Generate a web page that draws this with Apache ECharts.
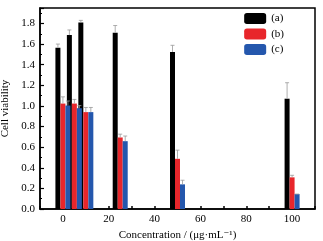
<html style="height: 100%">
<head>
<meta charset="utf-8">
</head>
<body style="height: 100%; margin: 0">
	<div id="container" style="height: 100%"></div>

	<script src="https://cdn.jsdelivr.net/npm/echarts@6/dist/echarts.min.js"></script>
	<script type="text/javascript">
		var dom = document.getElementById("container");
		var myChart = echarts.init(dom);

		// concentrations (μg/mL)
		var concentrations = [0, 5, 10, 25, 50, 100];
		var seriesNames = ['(a)', '(b)', '(c)'];
		// mean cell viability
		var valuesA = [1.565, 1.687, 1.81, 1.71, 1.523, 1.07];
		var valuesB = [1.023, 1.023, 0.94, 0.694, 0.487, 0.307];
		var valuesC = [1.004, 0.978, 0.94, 0.658, 0.239, 0.145];
		// error (upper)
		var errorsA = [0.035, 0.05, 0.02, 0.07, 0.065, 0.155];
		var errorsB = [0.065, 0.04, 0.045, 0.032, 0.084, 0.02];
		var errorsC = [0.044, 0.025, 0.045, 0.05, 0.04, 0.0];

		var colors = ['#000000', '#e8262b', '#2457ad'];
		var font = '"Liberation Serif", "DejaVu Serif", serif';

		function pairs(vals) {
			return concentrations.map(function (c, i) { return [c, vals[i]]; });
		}
		function errPairs(vals, errs) {
			return concentrations.map(function (c, i) { return [c, vals[i], vals[i] + errs[i]]; });
		}

		// pixel offset of each bar within a group (bar width 5)
		var offsets = [-5, 0, 5];

		function errorSeries(idx, vals, errs) {
			return {
				type: 'custom',
				name: seriesNames[idx] + ' err',
				z: 5,
				renderItem: function (params, api) {
					var lo = api.coord([api.value(0), api.value(1)]);
					var hi = api.coord([api.value(0), api.value(2)]);
					var x = lo[0] + offsets[idx];
					return {
						type: 'group',
						children: [{
							type: 'line',
							shape: { x1: x, y1: lo[1], x2: x, y2: hi[1] },
							style: { stroke: '#999', lineWidth: 0.8 }
						}, {
							type: 'line',
							shape: { x1: x - 2, y1: hi[1], x2: x + 2, y2: hi[1] },
							style: { stroke: '#999', lineWidth: 0.8 }
						}]
					};
				},
				data: errPairs(vals, errs)
			};
		}

		function barSeries(idx, vals) {
			return {
				name: seriesNames[idx],
				type: 'bar',
				barWidth: 5,
				barGap: '0%',
				itemStyle: { color: colors[idx] },
				data: pairs(vals)
			};
		}

		var option = {
			animation: false,
			grid: {
				left: 40, right: 8, top: 8, bottom: 32,
				outerBoundsMode: 'none',
				containLabel: false,
				show: true,
				borderColor: '#000',
				borderWidth: 1.5
			},
			legend: {
				data: seriesNames,
				orient: 'vertical',
				right: 34,
				top: 8,
				itemWidth: 22,
				itemHeight: 11,
				itemGap: 4.5,
				textStyle: { fontFamily: font, fontSize: 11, color: '#000' }
			},
			xAxis: {
				type: 'value',
				min: -10,
				max: 110,
				interval: 10,
				name: 'Concentration / (μg·mL⁻¹)',
				nameLocation: 'middle',
				nameGap: 20,
				nameTextStyle: { fontFamily: font, fontSize: 11, color: '#000' },
				axisLine: { onZero: false, lineStyle: { color: '#000', width: 1.5 } },
				axisTick: { inside: true, length: 3, lineStyle: { color: '#000', width: 1.5 } },
				axisLabel: {
					fontFamily: font, fontSize: 11, color: '#000', margin: 5,
					formatter: function (v) {
						return (v >= 0 && v <= 100 && v % 20 === 0) ? String(v) : '';
					}
				},
				splitLine: { show: false }
			},
			yAxis: {
				type: 'value',
				min: 0,
				max: 1.95,
				interval: 0.2,
				name: 'Cell viability',
				nameLocation: 'middle',
				nameGap: 27,
				nameTextStyle: { fontFamily: font, fontSize: 11, color: '#000' },
				axisLine: { onZero: false, lineStyle: { color: '#000', width: 1.5 } },
				axisTick: { inside: true, length: 4, lineStyle: { color: '#000', width: 1.2 } },
				minorTick: { show: true, splitNumber: 2, length: 2, lineStyle: { color: '#000' } },
				axisLabel: {
					fontFamily: font, fontSize: 11, color: '#000', margin: 5,
					showMaxLabel: false,
					formatter: function (v) { return v.toFixed(1); }
				},
				splitLine: { show: false }
			},
			series: [
				barSeries(0, valuesA),
				barSeries(1, valuesB),
				barSeries(2, valuesC),
				errorSeries(0, valuesA, errorsA),
				errorSeries(1, valuesB, errorsB),
				errorSeries(2, valuesC, errorsC)
			]
		};

		myChart.setOption(option);
	</script>
</body>
</html>
